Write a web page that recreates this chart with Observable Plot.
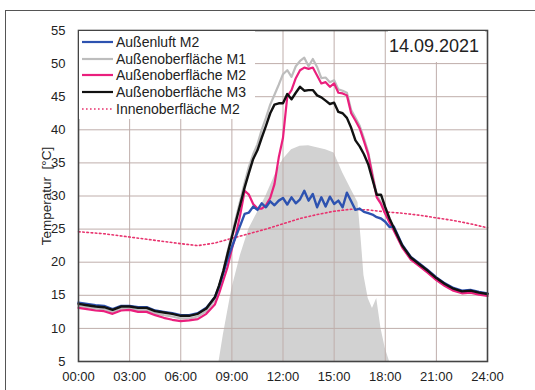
<!DOCTYPE html>
<html><head><meta charset="utf-8">
<script src="https://cdn.jsdelivr.net/npm/d3@7"></script>
<script src="https://cdn.jsdelivr.net/npm/@observablehq/plot@0.6"></script>
<style>
html,body{margin:0;padding:0;background:#fff;overflow:hidden;}
#wrap{position:relative;width:535px;height:390px;font-family:"Liberation Sans",Arial,sans-serif;color:#222;}
#frame{position:absolute;left:5px;top:10px;width:545px;height:400px;border:1.5px solid #555;box-sizing:border-box;pointer-events:none;}
#legend{position:absolute;left:79px;top:31px;width:176px;height:88px;background:#fff;}
.row{position:absolute;left:0;height:16px;display:flex;align-items:center;font-size:14px;white-space:nowrap;}
.row svg{margin-left:3px;margin-right:3px;}
#date{position:absolute;left:388px;top:31px;width:97px;height:31px;background:#fff;font-size:18px;text-align:right;line-height:31px;padding-right:0;}
#date span{position:relative;right:6px;}
#ylabel{position:absolute;left:46px;top:196px;transform:translate(-50%,-50%) rotate(-90deg);font-size:13.5px;white-space:pre;}
</style>
</head><body>
<div id="wrap"><div id="chart"></div>
<div id="legend"></div>
<div id="date"><span></span></div>
<div id="ylabel"></div>
<div id="frame"></div>
</div>
<script>
const dateLabel = "14.09.2021";
const yTitle = "Temperatur  [°C]";
const xTicks = [0, 3, 6, 9, 12, 15, 18, 21, 24];
const yTicks = [5, 10, 15, 20, 25, 30, 35, 40, 45, 50, 55];

const hours = [0,0.5,1,1.5,2,2.5,3,3.5,4,4.5,5,5.5,6,6.5,7,7.5,
  8,8.25,8.5,8.75,9,9.25,9.5,9.75,10,10.25,10.5,10.75,11,11.25,11.5,11.75,
  12,12.25,12.5,12.75,13,13.25,13.5,13.75,14,14.25,14.5,14.75,15,15.25,15.5,15.75,
  16,16.25,16.5,16.75,17,17.25,17.5,17.75,18,18.25,18.5,
  19,19.5,20,20.5,21,21.5,22,22.5,23,23.5,24];

const aussenluftM2 = [13.9,13.7,13.5,13.4,12.9,13.4,13.4,13.2,13.2,12.7,12.5,12.3,12.0,12.0,12.3,13.1,
  14.7,16.3,18.4,20.5,22.3,24.0,25.6,27.3,27.5,28.4,27.9,28.9,28.3,29.2,28.6,29.3,
  29.7,28.7,29.8,28.9,29.5,30.8,29.3,30.3,28.3,29.8,28.4,29.9,28.8,29.3,28.3,30.5,
  29.2,27.9,28.1,27.6,27.4,27.2,26.8,26.6,26.1,25.3,25.4,
  22.6,20.8,19.8,18.8,17.7,16.8,16.1,15.7,15.8,15.5,15.3];

const aussenM1 = [13.4,13.2,13.0,12.9,12.5,13.0,13.0,12.8,12.8,12.3,12.0,11.8,11.5,11.5,11.8,12.6,
  14.3,16.3,18.7,21.6,24.2,26.8,29.4,32.0,34.4,36.3,37.8,40.0,41.8,43.8,45.3,46.8,
  48.4,49.0,48.0,49.6,50.4,50.9,49.6,50.7,49.5,47.8,47.9,47.2,47.5,46.1,45.9,45.6,
  43.0,41.8,40.6,38.7,36.6,33.4,30.2,29.0,27.5,26.2,25.0,
  22.3,20.5,19.5,18.5,17.4,16.5,15.8,15.4,15.5,15.2,15.0];

const aussenM2 = [13.1,12.9,12.7,12.6,12.2,12.7,12.8,12.5,12.5,12.0,11.6,11.3,11.1,11.2,11.4,12.2,
  13.6,15.3,17.3,19.3,22.0,24.3,27.3,30.8,30.2,28.8,28.1,28.1,28.6,29.7,31.8,35.8,
  38.8,45.0,46.0,47.8,49.0,49.4,49.2,49.4,48.2,47.0,47.2,46.5,47.0,45.6,45.5,45.2,
  42.5,41.4,40.2,38.3,36.3,33.0,29.8,28.8,27.3,26.0,24.8,
  22.2,20.4,19.4,18.4,17.3,16.4,15.7,15.3,15.4,15.1,14.9];

const aussenM3 = [13.7,13.5,13.3,13.2,12.8,13.3,13.3,13.1,13.1,12.6,12.4,12.2,11.9,11.9,12.2,13.0,
  14.7,16.5,18.7,21.3,23.8,26.3,28.8,31.3,33.5,35.6,36.9,38.8,40.6,42.5,43.8,44.0,
  44.0,45.4,44.6,45.6,46.5,45.9,46.0,46.0,45.2,44.9,44.4,43.9,44.1,42.7,42.5,41.8,
  40.3,38.4,37.5,36.3,34.8,32.5,30.2,30.2,28.3,26.6,25.2,
  22.5,20.7,19.7,18.7,17.6,16.7,16.0,15.6,15.7,15.4,15.2];

const innenHours = [0,1.5,3,4.5,6,7,8,9,10,11,12,13,14,15,16,17,18,19,20,21,22,23,24];
const innenM2 = [24.6,24.3,23.8,23.3,22.8,22.5,22.9,23.6,24.3,25.0,25.8,26.6,27.2,27.7,28.0,27.9,27.6,27.4,27.1,26.7,26.3,25.8,25.2];

const sunHours = [8.25,8.5,9,9.5,10,10.5,11,11.5,12,12.5,13,13.5,14,14.5,15,15.5,16,16.4,16.6,16.75,17,17.25,17.5,17.75,18,18.25];
const sunValues = [5,9,16,21,25,27.5,30,33,35.5,37,37.5,37.6,37.3,37.0,36.5,33.5,31,29,23,18,14.5,13,14.5,10,7,5];

const seriesNames = ["Außenluft M2","Außenoberfläche M1","Außenoberfläche M2","Außenoberfläche M3","Innenoberfläche M2"];
const seriesColors = ["#2d52b0","#bdbdbd","#ea1f7d","#111111","#e8336e"];

const rows = (vals, xs) => xs.map((h, i) => ({h, v: vals[i]}));
const fmt = d => String(d).padStart(2, "0") + ":00";

const plot = Plot.plot({
  width: 535, height: 390,
  marginLeft: 78, marginRight: 48, marginTop: 30, marginBottom: 29,
  x: {domain: [0, 24], ticks: xTicks, tickFormat: fmt, label: null},
  y: {domain: [5, 55], ticks: yTicks, label: null},
  style: {fontFamily: '"Liberation Sans", Arial, sans-serif', fontSize: "13px", color: "#222", background: "#fff"},
  marks: [
    Plot.areaY(rows(sunValues, sunHours), {x: "h", y1: 5, y2: "v", fill: "#d2d2d2", curve: "linear"}),
    Plot.gridX(xTicks, {stroke: "#bfaeab", strokeOpacity: 1, strokeWidth: 1}),
    Plot.gridY(yTicks, {stroke: "#bfaeab", strokeOpacity: 1, strokeWidth: 1}),
    Plot.lineY(rows(innenM2, innenHours), {x: "h", y: "v", stroke: seriesColors[4], strokeWidth: 1.6, strokeDasharray: "1.6,2.6"}),
    Plot.lineY(rows(aussenM1, hours), {x: "h", y: "v", stroke: seriesColors[1], strokeWidth: 2.2}),
    Plot.lineY(rows(aussenM2, hours), {x: "h", y: "v", stroke: seriesColors[2], strokeWidth: 2.2}),
    Plot.lineY(rows(aussenluftM2, hours), {x: "h", y: "v", stroke: seriesColors[0], strokeWidth: 2.4}),
    Plot.lineY(rows(aussenM3, hours), {x: "h", y: "v", stroke: seriesColors[3], strokeWidth: 2.4}),
    Plot.frame({stroke: "#444", strokeWidth: 1.6}),
    Plot.axisX({ticks: xTicks, tickFormat: fmt, tickSize: 0, tickPadding: 10, label: null}),
    Plot.axisY({ticks: yTicks, tickSize: 0, tickPadding: 13, label: null})
  ]
});
document.getElementById("chart").appendChild(plot);

const leg = document.getElementById("legend");
seriesNames.forEach((name, i) => {
  const r = document.createElement("div");
  r.className = "row";
  r.style.top = (3 + i * 16.7) + "px";
  const dash = i === 4 ? 'stroke-dasharray="1.6,2.4" stroke-width="1.6"' : 'stroke-width="2.2"';
  r.innerHTML = `<svg width="31" height="6"><line x1="0" x2="31" y1="3" y2="3" stroke="${seriesColors[i]}" ${dash}/></svg><span>${name}</span>`;
  leg.appendChild(r);
});
document.querySelector("#date span").textContent = dateLabel;
document.getElementById("ylabel").textContent = yTitle;
</script>
</body></html>
